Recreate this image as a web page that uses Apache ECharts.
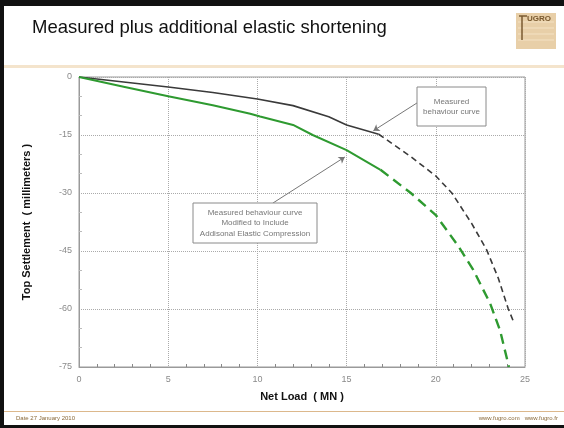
<!DOCTYPE html>
<html><head><meta charset="utf-8">
<script src="https://cdn.jsdelivr.net/npm/echarts@6/dist/echarts.min.js"></script>
<style>html,body{margin:0;padding:0;background:#fff}#c{width:564px;height:428px}</style>
</head><body><div id="c"></div>
<script>
// Data (Net Load MN, Top Settlement mm)
const measuredSolidX = [0, 2.5, 5, 7.5, 10, 12, 14, 15, 16.8];
const measuredSolidY = [0, -1.3, -2.6, -4.0, -5.7, -7.4, -10.3, -12.4, -14.8];
const measuredDashX = [16.8, 18.6, 20.0, 20.9, 22.0, 22.85, 23.5, 24.05, 24.35];
const measuredDashY = [-14.8, -20.6, -25.6, -30.0, -37.8, -44.7, -52.0, -59.8, -63.2];
const modifiedSolidX = [0, 2.5, 5, 7.5, 9.6, 10.15, 12, 13.1, 15, 16.9];
const modifiedSolidY = [0, -2.5, -5.0, -7.3, -9.5, -10.2, -12.4, -15.0, -18.9, -24.0];
const modifiedDashX = [16.9, 18.6, 20.0, 21.27, 22.1, 23.04, 23.6, 24.1];
const modifiedDashY = [-24.0, -30.0, -35.7, -43.8, -49.9, -58.5, -65.5, -75.0];
const xTicks = [0, 5, 10, 15, 20, 25];
const yTicks = [0, -15, -30, -45, -60, -75];

const zip = (xs, ys) => xs.map((x, i) => [x, ys[i]]);
const chart = echarts.init(document.getElementById('c'));
const font = 'Liberation Sans, Arial, sans-serif';
chart.setOption({
  animation: false,
  backgroundColor: '#fff',
  grid: { left: 79, top: 77, right: 39, bottom: 61, show: true, borderColor: '#9a9a9a', borderWidth: 1 },
  xAxis: {
    type: 'value', min: xTicks[0], max: xTicks[xTicks.length - 1], interval: 5,
    name: 'Net Load  ( MN )', nameLocation: 'middle', nameGap: 24,
    nameTextStyle: { fontFamily: font, fontWeight: 'bold', fontSize: 11, color: '#111' },
    axisLine: { show: true, onZero: false, lineStyle: { color: '#9a9a9a' } },
    axisTick: { show: false, inside: true },
    minorTick: { show: true, splitNumber: 5, length: 3, lineStyle: { color: '#888' } },
    axisLabel: { color: '#8a8a8a', fontSize: 9, fontFamily: font, margin: 8 },
    splitLine: { show: true, lineStyle: { color: '#aaa', type: [1, 1] } }
  },
  yAxis: {
    type: 'value', min: yTicks[yTicks.length - 1], max: yTicks[0], interval: 15,
    name: 'Top Settlement  ( millimeters )', nameLocation: 'middle', nameGap: 47,
    nameTextStyle: { fontFamily: font, fontWeight: 'bold', fontSize: 11, color: '#111' },
    axisLine: { show: true, onZero: false, lineStyle: { color: '#9a9a9a' } },
    axisTick: { show: false, inside: true },
    minorTick: { show: true, splitNumber: 3, length: 3, lineStyle: { color: '#bbb' } },
    axisLabel: { color: '#8a8a8a', fontSize: 9, fontFamily: font, margin: 7 },
    splitLine: { show: true, lineStyle: { color: '#aaa', type: [1, 1] } }
  },
  series: [
    { type: 'line', data: zip(measuredSolidX, measuredSolidY), symbol: 'none', lineStyle: { color: '#3a3a3a', width: 1.6 }, z: 3,
      markLine: { silent: true, symbol: ['none', 'arrow'], symbolSize: 6, label: { show: false },
        lineStyle: { color: '#777', width: 1, type: 'solid' },
        data: [
          [{ coord: [18.95, -6.7] }, { coord: [16.5, -13.9] }],
          [{ coord: [10.87, -32.6] }, { coord: [14.9, -20.7] }]
        ] } },
    { type: 'line', data: zip(measuredDashX, measuredDashY), symbol: 'none', lineStyle: { color: '#3a3a3a', width: 1.6, type: [6, 4] }, z: 3 },
    { type: 'line', data: zip(modifiedSolidX, modifiedSolidY), symbol: 'none', lineStyle: { color: '#2e9a30', width: 2 }, z: 3 },
    { type: 'line', data: zip(modifiedDashX, modifiedDashY), symbol: 'none', lineStyle: { color: '#2e9a30', width: 2.4, type: [10, 6] }, z: 3 }
  ],
  graphic: [
    // slide frame
    { type: 'rect', shape: { x: 0, y: 0, width: 564, height: 6 }, style: { fill: '#111' } },
    { type: 'rect', shape: { x: 0, y: 0, width: 4, height: 428 }, style: { fill: '#111' } },
    { type: 'rect', shape: { x: 0, y: 425, width: 564, height: 3 }, style: { fill: '#111' } },
    // title
    { type: 'text', left: 32, top: 18, style: { text: 'Measured plus additional elastic shortening', font: '18.5px ' + font, fill: '#111' } },
    // header line
    { type: 'rect', shape: { x: 4, y: 65, width: 560, height: 3 }, style: { fill: '#f4e4cc' } },
    // logo
    { type: 'rect', shape: { x: 516, y: 13, width: 40, height: 36 }, style: { fill: '#e8cfa8' } },
    { type: 'line', shape: { x1: 518, y1: 22, x2: 554, y2: 22 }, style: { stroke: '#f4e2c4', lineWidth: 1 } },
    { type: 'line', shape: { x1: 518, y1: 28, x2: 554, y2: 28 }, style: { stroke: '#f4e2c4', lineWidth: 1 } },
    { type: 'line', shape: { x1: 518, y1: 34, x2: 554, y2: 34 }, style: { stroke: '#f4e2c4', lineWidth: 1 } },
    { type: 'line', shape: { x1: 518, y1: 40, x2: 554, y2: 40 }, style: { stroke: '#f4e2c4', lineWidth: 1 } },
    { type: 'text', x: 527, y: 15, style: { text: 'UGRO', font: 'bold 8px ' + font, fill: '#7a5a30' } },
    { type: 'line', shape: { x1: 519, y1: 16, x2: 527, y2: 16 }, style: { stroke: '#7a5a30', lineWidth: 1.5 } },
    { type: 'line', shape: { x1: 522, y1: 16, x2: 522, y2: 40 }, style: { stroke: '#7a5a30', lineWidth: 1.5 } },
    // footer
    { type: 'rect', shape: { x: 4, y: 411, width: 560, height: 1 }, style: { fill: '#dcb88c' } },
    { type: 'text', x: 16, y: 415, style: { text: 'Date 27 January 2010', font: '6px ' + font, fill: '#8a6a3a' } },
    { type: 'text', x: 558, y: 415, style: { text: 'www.fugro.com   www.fugro.fr', font: '6px ' + font, fill: '#8a6a3a', align: 'right' } },
    // annotation boxes
    { type: 'rect', shape: { x: 417, y: 87, width: 69, height: 39 }, style: { fill: '#fff', stroke: '#8a8a8a', lineWidth: 1 }, z: 10 },
    { type: 'text', x: 451.5, y: 106.5, style: { text: 'Measured\nbehaviour curve', font: '8px ' + font, fill: '#777', align: 'center', verticalAlign: 'middle', lineHeight: 10 }, z: 11 },
    { type: 'rect', shape: { x: 193, y: 203, width: 124, height: 40 }, style: { fill: '#fff', stroke: '#8a8a8a', lineWidth: 1 }, z: 10 },
    { type: 'text', x: 255, y: 223, style: { text: 'Measured behaviour curve\nModified to Include\nAddisonal Elastic Compression', font: '8px ' + font, fill: '#777', align: 'center', verticalAlign: 'middle', lineHeight: 10.5 }, z: 11 }
  ]
});
</script></body></html>
